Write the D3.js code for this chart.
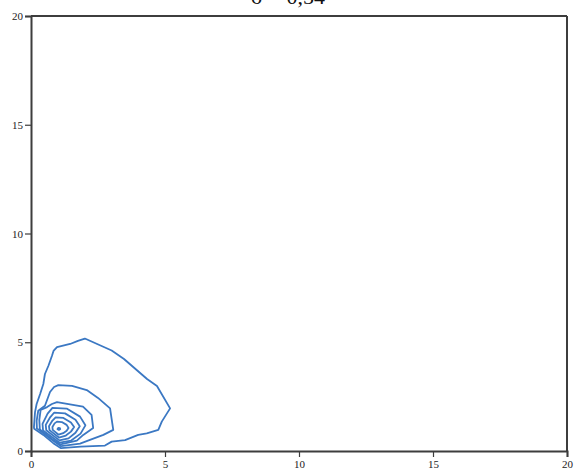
<!DOCTYPE html>
<html>
<head>
<meta charset="utf-8">
<script src="https://cdn.jsdelivr.net/npm/d3@7"></script>
<style>
  html, body { margin: 0; padding: 0; background: #fff; }
  svg { display: block; }
</style>
</head>
<body>
<svg id="chart" width="574" height="474"></svg>
<script>
// Axis domains and tick labels
const xTicks = [0, 5, 10, 15, 20];
const yTicks = [0, 5, 10, 15, 20];
const titleText = "σ = 0,54";

// Density contour rings, outermost first, as [x, y] vertices
const ring1 = [[2.01,5.17],[3.01,4.62],[3.47,4.23],[4.33,3.31],[4.70,2.99],[5.19,1.96],[4.88,1.35],[4.75,0.97],[4.32,0.81],[4.0,0.74],[3.51,0.5],[3.01,0.43],[2.76,0.25],[1.85,0.2],[1.12,0.13],[0.83,0.36],[0.46,0.74],[0.12,1.02],[0.11,1.10],[0.15,1.79],[0.21,2.16],[0.34,2.62],[0.46,3.08],[0.52,3.54],[0.65,3.92],[0.78,4.37],[0.84,4.6],[0.97,4.78],[1.46,4.92],[1.75,5.06]];
const ring2 = [[1.02,3.03],[1.53,2.99],[2.08,2.80],[2.50,2.44],[2.95,1.96],[3.07,0.97],[2.70,0.74],[2.20,0.51],[1.83,0.34],[1.12,0.22],[0.88,0.42],[0.50,0.78],[0.22,1.04],[0.21,1.39],[0.27,1.85],[0.52,2.08],[0.71,2.71],[0.86,2.94]];
const ring3 = [[0.97,2.25],[1.94,2.04],[2.26,1.66],[2.32,1.06],[1.95,0.74],[1.71,0.48],[1.10,0.30],[0.78,0.55],[0.33,0.99],[0.31,1.43],[0.36,1.89],[0.60,2.02],[0.78,2.16]];
const ring4 = [[0.80,1.98],[1.33,1.95],[1.83,1.58],[2.03,1.18],[1.85,0.80],[1.50,0.48],[1.07,0.38],[0.45,0.94],[0.43,1.25],[0.62,1.72]];
const ring5 = [[0.86,1.76],[1.27,1.73],[1.66,1.44],[1.82,1.14],[1.66,0.84],[1.40,0.58],[1.06,0.49],[0.57,0.95],[0.55,1.20],[0.72,1.56]];
const ring6 = [[0.92,1.55],[1.21,1.52],[1.49,1.31],[1.61,1.10],[1.49,0.89],[1.30,0.71],[1.04,0.62],[0.69,0.96],[0.67,1.14],[0.80,1.40]];
const ring7 = [[0.97,1.35],[1.15,1.33],[1.33,1.20],[1.40,1.06],[1.33,0.93],[1.20,0.82],[1.03,0.75],[0.81,0.97],[0.80,1.10],[0.88,1.27]];
const ring8 = [[1.02,1.06],[1.08,1.05],[1.09,1.00],[1.04,0.97],[0.99,1.00],[1.00,1.04]];
const rings = [ring1, ring2, ring3, ring4, ring5, ring6, ring7, ring8];

const svg = d3.select("#chart");
const margin = { left: 31, right: 7, top: 16, bottom: 23 };
const W = 574, H = 474;

const x = d3.scaleLinear().domain([0, 20]).range([margin.left, W - margin.right]);
const y = d3.scaleLinear().domain([0, 20]).range([H - margin.bottom, margin.top]);

const axisColor = "#3d3d3d";
const font = "'Liberation Serif', 'DejaVu Serif', serif";

// Title, running off the top edge of the page
svg.append("text")
  .attr("x", 288).attr("y", 4)
  .attr("text-anchor", "middle")
  .attr("font-family", font)
  .attr("font-size", 22)
  .attr("fill", "#111")
  .text(titleText);

// Contour lines
const line = d3.line().x(d => x(d[0])).y(d => y(d[1])).curve(d3.curveLinearClosed);
svg.append("g")
  .selectAll("path")
  .data(rings)
  .join("path")
  .attr("d", line)
  .attr("fill", "none")
  .attr("stroke", "#3b78c3")
  .attr("stroke-width", 1.8)
  .attr("stroke-linejoin", "round");

// Frame: top and right edges
svg.append("line")
  .attr("x1", x(0)).attr("x2", x(20)).attr("y1", y(20)).attr("y2", y(20))
  .attr("stroke", axisColor).attr("stroke-width", 2);
svg.append("line")
  .attr("x1", x(20)).attr("x2", x(20)).attr("y1", y(20)).attr("y2", y(0))
  .attr("stroke", axisColor).attr("stroke-width", 2);

// Axes
const xAxis = d3.axisBottom(x).tickValues(xTicks).tickSize(6).tickPadding(3).tickFormat(d3.format("d"));
const yAxis = d3.axisLeft(y).tickValues(yTicks).tickSize(6).tickPadding(2).tickFormat(d3.format("d"));

const gx = svg.append("g").attr("transform", `translate(0,${y(0)})`).call(xAxis);
const gy = svg.append("g").attr("transform", `translate(${x(0)},0)`).call(yAxis);

[gx, gy].forEach(g => {
  g.select(".domain").attr("stroke", axisColor).attr("stroke-width", 2);
  g.selectAll(".tick line").attr("stroke", axisColor).attr("stroke-width", 1.2);
  g.selectAll(".tick text")
    .attr("font-family", font)
    .attr("font-size", 11)
    .attr("fill", "#222");
});
</script>
</body>
</html>
